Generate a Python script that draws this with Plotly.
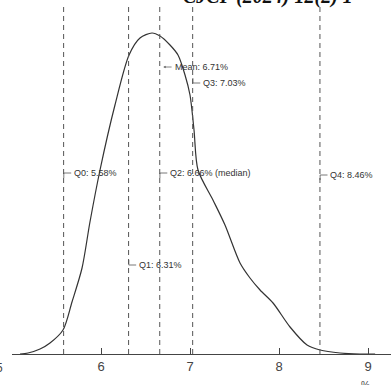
import plotly.graph_objects as go

# density curve (x in %, y density in arbitrary units)
dens_x = [5.09, 5.18, 5.315, 5.427, 5.573, 5.674, 5.787, 5.876, 5.989, 6.157, 6.315, 6.438,
          6.573, 6.663, 6.775, 6.865, 6.944, 7.0, 7.045, 7.09, 7.258, 7.393, 7.562, 7.674,
          7.787, 7.933, 8.124, 8.315, 8.461, 8.685, 8.91, 9.08]
dens_y = [0, 1, 5, 11, 24, 52, 86, 132, 184, 249, 299, 316,
          321, 318, 309, 299, 279, 259, 224, 184, 154, 129, 91, 76,
          64, 51, 27, 9, 4, 1, 0, 0]

quart_names = ["Q0", "Q1", "Q2", "Q3", "Q4"]
quart_vals = [5.58, 6.31, 6.66, 7.03, 8.46]
mean_val = 6.71
tick_vals = [6, 7, 8, 9]
tick_text = ["6", "7", "8", "9"]

fig = go.Figure()
fig.add_trace(go.Scatter(x=dens_x, y=dens_y, mode="lines",
                         line=dict(color="#333333", width=1.2, shape="spline", smoothing=0.8),
                         hoverinfo="skip", showlegend=False))

for v in quart_vals:
    fig.add_shape(type="line", x0=v, x1=v, y0=0, y1=348, xref="x", yref="y",
                  line=dict(color="#555555", width=1, dash="5px,4px"))

lab_font = dict(family="Liberation Sans, Arial", size=9, color="#333333")
# label y positions (plot units) and hook direction
label_y = {"Q0": 181, "Q1": 89, "Q2": 181, "Q3": 271, "Q4": 179}
hook_dir = {"Q0": -1, "Q1": 1, "Q2": -1, "Q3": 1, "Q4": -1}
label_txt = {"Q0": "Q0: 5.58%", "Q1": "Q1: 6.31%", "Q2": "Q2: 6.66% (median)",
             "Q3": "Q3: 7.03%", "Q4": "Q4: 8.46%"}
for n, v in zip(quart_names, quart_vals):
    yy = label_y[n]
    d = hook_dir[n]
    fig.add_shape(type="path", xref="x", yref="y",
                  path=f"M {v+0.002},{yy + d*5} L {v+0.002},{yy} L {v+0.085},{yy}",
                  line=dict(color="#555555", width=0.8))
    fig.add_annotation(x=v + 0.09, y=yy, text=label_txt[n], showarrow=False,
                       xanchor="left", yanchor="middle", font=lab_font)

fig.add_annotation(x=mean_val - 0.01, y=287, ax=mean_val + 0.1, ay=287, axref="x", ayref="y",
                   xref="x", yref="y", text="", showarrow=True, arrowhead=2, arrowsize=0.6,
                   arrowwidth=0.8, arrowcolor="#666666")
fig.add_annotation(x=mean_val + 0.1, y=287, text="Mean: 6.71%", showarrow=False,
                   xanchor="left", yanchor="middle", font=lab_font)

# journal header (cut off at top) and clipped labels
fig.add_annotation(xref="paper", yref="paper", x=0.445, y=1.0, yshift=-10,
                   text="<b><i>CJCP (2024) 12(2) 1</i></b>", showarrow=False,
                   xanchor="left", yanchor="bottom",
                   font=dict(family="Liberation Serif, Times New Roman", size=20, color="#111111"))
fig.add_annotation(xref="paper", yref="paper", x=0, xshift=-13, y=0, yshift=-14, text="5",
                   showarrow=False, xanchor="center", yanchor="middle",
                   font=dict(family="Liberation Sans, Arial", size=12, color="#444444"))
fig.add_annotation(xref="paper", yref="paper", x=0.932, y=0, yshift=-31, text="%",
                   showarrow=False, xanchor="center", yanchor="middle",
                   font=dict(family="Liberation Sans, Arial", size=10, color="#444444"))

fig.update_xaxes(range=[5.0, 5.0 + 379 / 89], showgrid=False, zeroline=False,
                 showline=True, linecolor="#444444", linewidth=1.2,
                 ticks="inside", ticklen=6, tickcolor="#444444",
                 tickvals=tick_vals, ticktext=tick_text,
                 tickfont=dict(family="Liberation Sans, Arial", size=13, color="#444444"))
fig.update_yaxes(range=[0, 354], visible=False)
fig.update_layout(width=391, height=385, margin=dict(l=12, r=0, t=0, b=31, autoexpand=False),
                  plot_bgcolor="white", paper_bgcolor="white", showlegend=False)
fig.write_html("out.html", config={"displayModeBar": False},
               post_script="document.body.style.margin='0';")
